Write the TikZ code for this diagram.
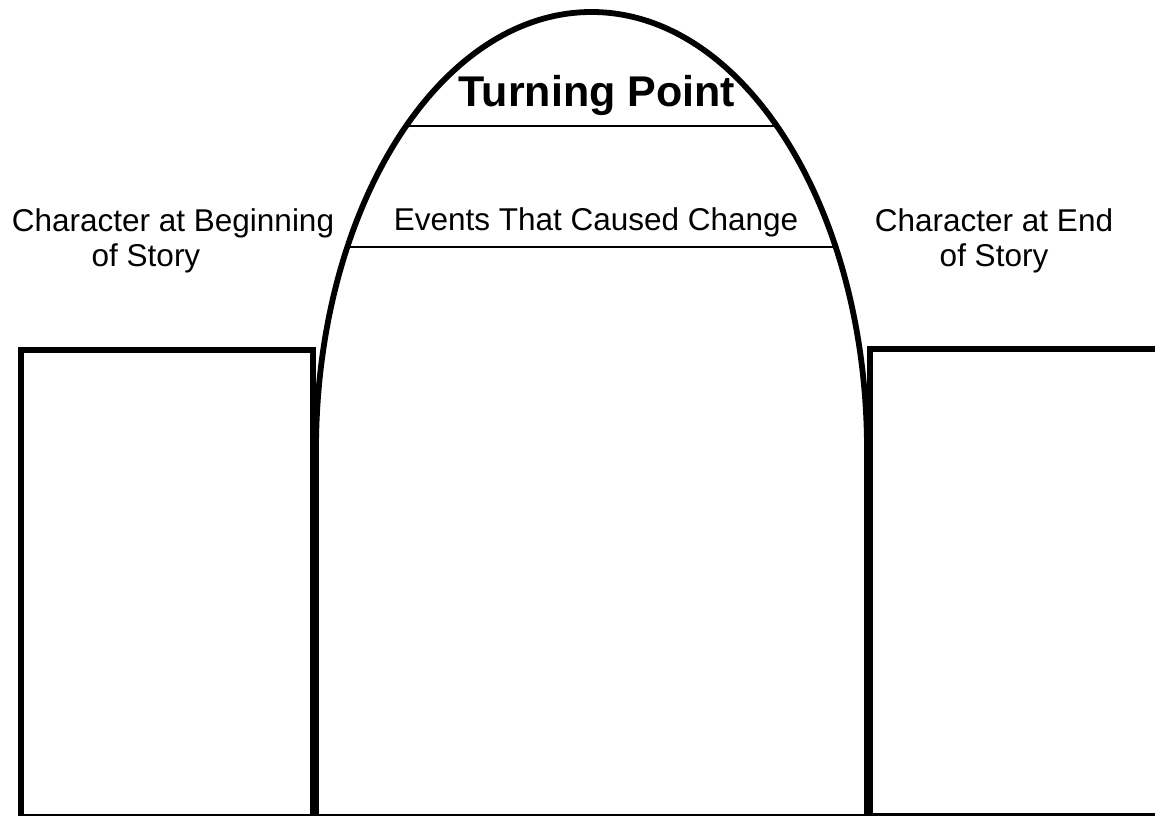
\documentclass[tikz,border=0pt]{standalone}
\usepackage{fontspec}
\setmainfont{Liberation Sans}
\usetikzlibrary{positioning}
\tikzset{
  frame/.style   = {line width=5.8pt, draw=black},
  divider/.style = {line width=1.3pt, draw=black},
  lbl/.style     = {font=\fontsize{31.5}{35}\selectfont, align=center, inner sep=0pt, anchor=base},
  titlelbl/.style= {font=\fontsize{43}{50}\selectfont\bfseries, inner sep=0pt, anchor=base},
}

\begin{document}
\begin{tikzpicture}[x=1pt, y=1pt]
  \useasboundingbox (0,0) rectangle (1155,815);
  \clip (0,0) rectangle (1155,815);
  % side boxes
  \draw[frame] (21,-2) rectangle (313,465);
  \draw[frame] (1165,466) -- (870,466) -- (870,-1) -- (1165,-1);
  % arch
  \draw[frame] (316,-2) -- (316,365)
    arc[start angle=180, end angle=0, x radius=275.5, y radius=438]
    -- (867,-2) -- cycle;
  \draw[divider] (405,689) -- (778,689);
  \draw[divider] (346,568) -- (837,568);
  % labels
  \node[titlelbl] (turn) at (597,708) {Turning Point};
  \node[lbl] (events) at (596,584) {Events That Caused Change};
  \node[lbl] (start) at (173,548) {Character at Beginning\\of Story\hspace*{54pt}};
  \node[lbl] (finish) at (994,548) {Character at End\\of Story};
\end{tikzpicture}
\end{document}
